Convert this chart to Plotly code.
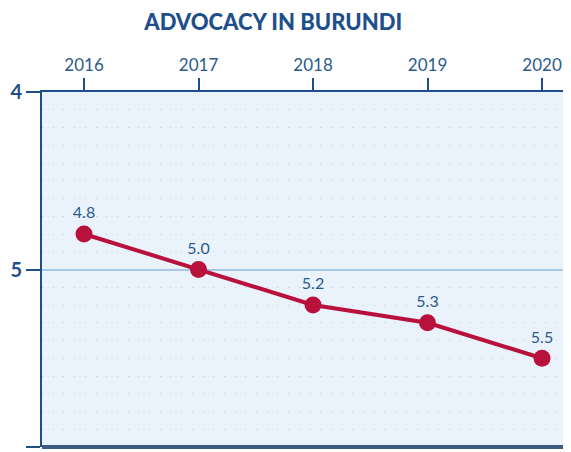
import plotly.graph_objects as go

years = [2016, 2017, 2018, 2019, 2020]
values = [4.8, 5.0, 5.2, 5.3, 5.5]
labels = ["4.8", "5.0", "5.2", "5.3", "5.5"]
y_ticks = [4, 5, 6]

navy = "#1f4f8a"
red = "#b8123c"

fig = go.Figure()
fig.add_trace(go.Scatter(
    x=years, y=values, mode="lines+markers+text",
    text=labels, textposition="top center",
    textfont=dict(family="Lato, sans-serif", size=16, color="#2b5a8c"),
    line=dict(color=red, width=4),
    marker=dict(color=red, size=17),
    cliponaxis=False, showlegend=False,
))

# page body has an 8px margin, so the figure is sized to fill the rest
fig.update_layout(
    width=563, height=444,
    margin=dict(l=34, r=0, t=84, b=5, autoexpand=False),
    paper_bgcolor="white",
    plot_bgcolor="#eaf2fb",
    title=dict(text="ADVOCACY IN BURUNDI", x=0.471, xanchor="center",
               y=0.968, yanchor="middle",
               font=dict(family="Lato, sans-serif", size=22, weight=900, color=navy)),
    xaxis=dict(
        side="top", range=[2015.633, 2020.253], automargin=False,
        tickvals=years, ticktext=[str(y) for y in years],
        ticks="outside", ticklen=12, tickwidth=2, tickcolor=navy,
        tickfont=dict(family="Lato, sans-serif", size=17, color="#2b5a8c"),
        showgrid=False, zeroline=False,
        showline=True, linecolor=navy, linewidth=2,
    ),
    yaxis=dict(
        range=[6, 4], tickvals=y_ticks, ticktext=[str(v) for v in y_ticks],
        automargin=False,
        ticks="outside", ticklen=14, tickwidth=2, tickcolor=navy,
        tickfont=dict(family="Lato, sans-serif", size=20, weight=700, color=navy),
        showgrid=True, gridcolor="#a9c8e6", gridwidth=2,
        zeroline=False, showline=True, linecolor=navy, linewidth=2,
        minor=dict(dtick=0.1, showgrid=True, gridcolor="#c3ccd9",
                   griddash="1px,9.7px", gridwidth=1.2),
    ),
)
fig.add_shape(type="line", xref="paper", yref="paper", x0=0, x1=1, y0=0, y1=0,
              line=dict(color="#3c5e7e", width=4))

fig.write_html("out.html")
